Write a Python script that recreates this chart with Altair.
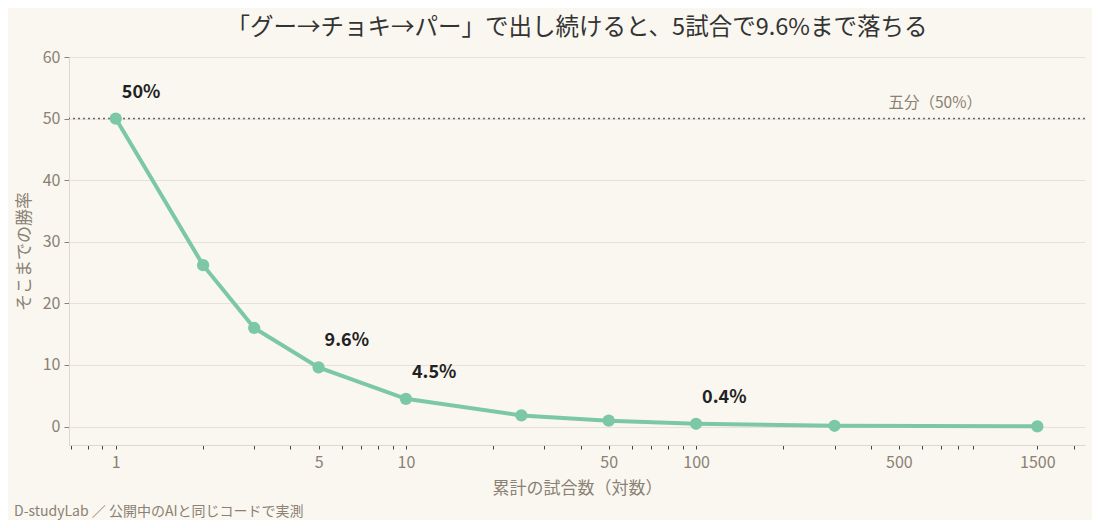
import altair as alt
import pandas as pd

games = [1, 2, 3, 5, 10, 25, 50, 100, 300, 1500]
rates = [50.0, 26.2, 16.0, 9.6, 4.5, 1.8, 0.95, 0.45, 0.12, 0.03]

label_games = [1, 5, 10, 100]
label_rates = [50.0, 9.6, 4.5, 0.45]
label_texts = ["50%", "9.6%", "4.5%", "0.4%"]

major_ticks = [1, 5, 10, 50, 100, 500, 1500]
all_ticks = [0.7, 0.8, 0.9, 1, 2, 3, 4, 5, 6, 7, 8, 9, 10, 20, 30, 40, 50, 60, 70, 80, 90,
             100, 200, 300, 400, 500, 600, 700, 800, 900, 1500, 2000]
y_ticks = [0, 10, 20, 30, 40, 50, 60]

title_text = "「グー→チョキ→パー」で出し続けると、5試合で9.6%まで落ちる"
x_title = "累計の試合数（対数）"
y_title = "そこまでの勝率"
ref_label = "五分（50%）"
footer = "D-studyLab ／ 公開中のAIと同じコードで実測"

FONT = "Noto Sans CJK JP"
GREEN = "#7cc8a6"
GRAY = "#8a8174"

df = pd.DataFrame({"n": games, "rate": rates})
lab = pd.DataFrame({"n": label_games, "rate": label_rates, "t": label_texts})
one = pd.DataFrame({"k": [0]})

xscale = alt.Scale(type="log", domain=[0.69, 2190], nice=False)
yscale = alt.Scale(domain=[-3, 60], nice=False, zero=False)

major_str = ",".join(str(v) for v in major_ticks)
xaxis = alt.Axis(
    values=all_ticks,
    labelExpr=f"indexof([{major_str}], datum.value) >= 0 ? format(datum.value, 'd') : ''",
    labelOverlap=False,
    labelFlush=False,
    grid=False,
    title=x_title,
    tickColor="#444",
    tickSize=4,
    domainColor="#ddd7cc",
    labelColor=GRAY,
    labelFontSize=16,
    labelPadding=5,
    titleColor=GRAY,
    titleFontSize=17,
    titleFontWeight="normal",
    titlePadding=10,
)
yaxis = alt.Axis(
    values=y_ticks,
    grid=True,
    gridColor="#e7e2d9",
    title=y_title,
    tickColor=GRAY,
    tickSize=5,
    domainColor="#ddd7cc",
    labelColor=GRAY,
    labelFontSize=16,
    labelPadding=4,
    titleColor=GRAY,
    titleFontSize=17,
    titleFontWeight="normal",
    titlePadding=9,
)

rule = alt.Chart(one).mark_rule(color="#666", strokeDash=[2, 3], strokeWidth=1.5).encode(
    y=alt.datum(50, scale=yscale)
)

line = alt.Chart(df).mark_line(color=GREEN, strokeWidth=4).encode(
    x=alt.X("n:Q", scale=xscale, axis=xaxis),
    y=alt.Y("rate:Q", scale=yscale, axis=yaxis),
)

points = alt.Chart(df).mark_circle(color=GREEN, size=150, opacity=1).encode(
    x="n:Q", y="rate:Q"
)

labels = alt.Chart(lab).mark_text(
    align="left", baseline="middle", dx=6, dy=-26, fontSize=18, fontWeight="bold",
    color="#222", font=FONT
).encode(x="n:Q", y="rate:Q", text="t:N")

ref_text = alt.Chart(one).mark_text(
    align="center", baseline="middle", dy=-16, fontSize=15.5, fontWeight="normal",
    color=GRAY, font=FONT
).encode(x=alt.datum(667), y=alt.datum(50), text=alt.value(ref_label))

foot = alt.Chart(one).mark_text(
    align="left", baseline="middle", fontSize=14, fontWeight="normal", color=GRAY, font=FONT
).encode(x=alt.value(-55), y=alt.value(455), text=alt.value(footer))

chart = alt.layer(rule, line, points, labels, ref_text, foot).properties(
    width=1016,
    height=388,
    background="#faf7f0",
    padding={"left": 61, "top": 49, "right": 7, "bottom": 75},
    autosize=alt.AutoSizeParams(type="none"),
    title=alt.TitleParams(
        text=title_text, fontSize=23.5, fontWeight="normal", color="#333",
        font=FONT, anchor="middle", offset=10
    ),
).configure(font=FONT).configure_view(stroke=None)

chart.save("out.html", embed_options={"renderer": "svg", "actions": False})
